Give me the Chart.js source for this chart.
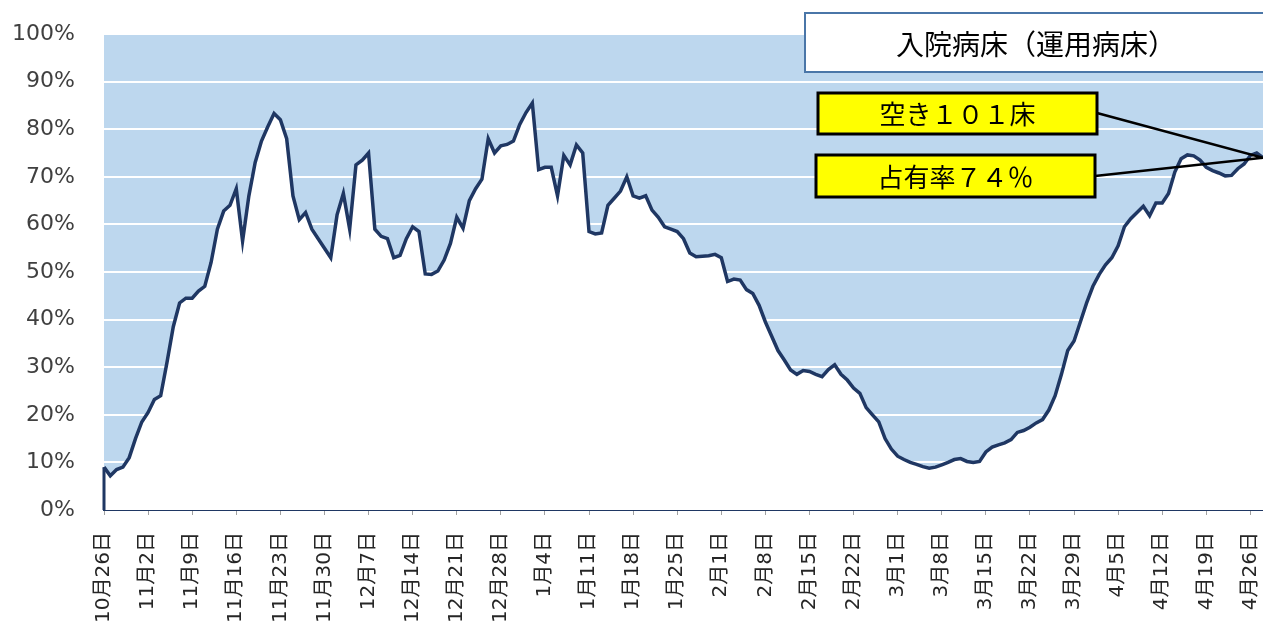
<!DOCTYPE html>
<html lang="ja">
<head>
<meta charset="utf-8">
<script src="https://cdn.jsdelivr.net/npm/chart.js@4.4.1/dist/chart.umd.min.js"></script>
<style>
  html, body { margin: 0; padding: 0; background: #fff; }
  #wrap { width: 1263px; height: 630px; position: relative; }
</style>
</head>
<body>
<div id="wrap"><canvas id="bed" width="1263" height="630"></canvas></div>
<script>
// daily occupancy (%) from 10/26 to 4/28
const occupancy = [
  9, 7.2, 8.5, 9, 11, 15, 18.5, 20.5, 23.2, 24,
  31, 38.5, 43.5, 44.5, 44.5, 46, 47, 52, 59, 62.8,
  64, 67.5, 56.5, 66, 73, 77.5, 80.5, 83.3, 82, 78,
  66, 61, 62.5, 59, 57, 55, 53, 62, 66.5, 59,
  72.5, 73.5, 75, 59, 57.5, 57, 53, 53.5, 57, 59.5,
  58.5, 49.6, 49.5, 50.2, 52.5, 56, 61.5, 59.2, 65, 67.5,
  69.5, 78, 75, 76.5, 76.8, 77.5, 81, 83.5, 85.5, 71.5,
  72, 72, 66, 74.5, 72.5, 76.7, 75, 58.5, 58, 58.2,
  64, 65.5, 67, 70, 66, 65.5, 66, 63, 61.5, 59.5,
  59, 58.5, 57, 54, 53.2, 53.3, 53.4, 53.7, 53, 48,
  48.5, 48.3, 46.3, 45.5, 43, 39.5, 36.5, 33.5, 31.5, 29.4,
  28.5, 29.3, 29.1, 28.5, 28, 29.5, 30.5, 28.5, 27.3, 25.6,
  24.5, 21.5, 20, 18.5, 15, 12.8, 11.3, 10.6, 10, 9.6,
  9.1, 8.8, 9, 9.5, 10, 10.6, 10.8, 10.2, 10, 10.2,
  12.2, 13.2, 13.7, 14.1, 14.8, 16.3, 16.7, 17.4, 18.3, 19,
  21, 24, 28.5, 33.5, 35.5, 39.5, 43.5, 47, 49.5, 51.5,
  53, 55.5, 59.5, 61.2, 62.5, 63.8, 61.8, 64.5, 64.5, 66.5,
  71, 73.8, 74.6, 74.4, 73.5, 72, 71.3, 70.8, 70.2, 70.3,
  71.7, 72.7, 74.5, 75, 74
];

const weekLabels = [
  '10月26日', '11月2日', '11月9日', '11月16日', '11月23日', '11月30日',
  '12月7日', '12月14日', '12月21日', '12月28日', '1月4日', '1月11日',
  '1月18日', '1月25日', '2月1日', '2月8日', '2月15日', '2月22日',
  '3月1日', '3月8日', '3月15日', '3月22日', '3月29日', '4月5日',
  '4月12日', '4月19日', '4月26日'
];

const yTicks = [0, 10, 20, 30, 40, 50, 60, 70, 80, 90, 100];

const titleText = '入院病床（運用病床）';
const emptyText = '空き１０１床';
const rateText = '占有率７４％';

// one category per day, weekly ones get a visible label
const days = occupancy.map((v, i) => {
  const w = i % 7 === 0 ? weekLabels[i / 7] : null;
  return w || '';
});

const navy = '#1f3763';
const skyBlue = '#bdd7ee';

// blue plot background, left edge of the area and the callouts
const areaDeco = {
  id: 'areaDeco',
  beforeDraw(chart) {
    const { ctx, chartArea: a } = chart;
    ctx.save();
    ctx.fillStyle = skyBlue;
    ctx.fillRect(a.left, a.top, a.right - a.left, a.bottom - a.top);
    ctx.restore();
  },
  afterDatasetsDraw(chart) {
    const { ctx, scales } = chart;
    const x0 = scales.x.getPixelForValue(0);
    ctx.save();
    ctx.strokeStyle = navy;
    ctx.lineWidth = 3;
    ctx.beginPath();
    ctx.moveTo(x0, scales.y.getPixelForValue(0));
    ctx.lineTo(x0, scales.y.getPixelForValue(occupancy[0]));
    ctx.stroke();
    ctx.restore();
  },
  afterDraw(chart) {
    const { ctx, scales } = chart;
    const last = occupancy.length - 1;
    const px = scales.x.getPixelForValue(last);
    const py = scales.y.getPixelForValue(occupancy[last]);

    ctx.save();
    // title box
    ctx.fillStyle = '#fff';
    ctx.fillRect(805, 13, 470, 59);
    ctx.strokeStyle = '#4a76a8';
    ctx.lineWidth = 2;
    ctx.strokeRect(805, 13, 470, 59);
    ctx.fillStyle = '#000';
    ctx.font = '28px "Noto Sans CJK JP"';
    ctx.textAlign = 'center';
    ctx.textBaseline = 'middle';
    ctx.fillText(titleText, 1036, 44);

    // connector lines
    ctx.strokeStyle = '#000';
    ctx.lineWidth = 2.5;
    ctx.beginPath();
    ctx.moveTo(1097, 113);
    ctx.lineTo(px, py);
    ctx.moveTo(1095, 176);
    ctx.lineTo(px, py);
    ctx.stroke();

    // yellow boxes
    const boxes = [
      { x: 818, y: 93, w: 279, h: 41, t: emptyText },
      { x: 816, y: 155, w: 279, h: 42, t: rateText }
    ];
    ctx.font = '26px "Noto Sans CJK JP"';
    boxes.forEach(b => {
      ctx.fillStyle = '#ffff00';
      ctx.fillRect(b.x, b.y, b.w, b.h);
      ctx.lineWidth = 3;
      ctx.strokeStyle = '#000';
      ctx.strokeRect(b.x, b.y, b.w, b.h);
      ctx.fillStyle = '#000';
      ctx.fillText(b.t, b.x + b.w / 2, b.y + b.h / 2 + 1);
    });
    ctx.restore();
  }
};

const config = {
  type: 'line',
  data: {
    labels: days,
    datasets: [{
      data: occupancy,
      borderColor: navy,
      borderWidth: 3.5,
      backgroundColor: '#ffffff',
      fill: 'origin',
      pointRadius: 0,
      tension: 0
    }]
  },
  options: {
    responsive: false,
    animation: false,
    layout: { padding: { top: 34, right: 0, left: 0, bottom: 0 } },
    plugins: { legend: { display: false }, tooltip: { enabled: false } },
    scales: {
      x: {
        offset: false,
        border: { display: true, color: navy, width: 2 },
        grid: { display: true, drawOnChartArea: false, drawTicks: true, tickLength: 5, color: '#a0a0a0' },
        ticks: {
          autoSkip: false,
          minRotation: 90,
          maxRotation: 90,
          padding: 17,
          color: '#262626',
          font: { family: '"DejaVu Sans", "Noto Sans CJK JP"', size: 20 },
          callback(val, i) {
            return i % 7 === 0 ? this.getLabelForValue(val) : null;
          }
        },
        afterFit(scale) {
          scale.height = 120;
          scale.paddingLeft = 0;
          scale.paddingRight = 0;
        }
      },
      y: {
        min: yTicks[0],
        max: yTicks[yTicks.length - 1],
        border: { display: false },
        grid: { color: '#ffffff', lineWidth: 2, drawTicks: false },
        afterBuildTicks(scale) {
          scale.ticks = yTicks.map(v => ({ value: v }));
        },
        ticks: {
          padding: 29,
          color: '#404040',
          font: { family: '"DejaVu Sans"', size: 22 },
          callback: v => v + '%'
        },
        afterFit(scale) {
          scale.width = 104;
          scale.paddingTop = 0;
          scale.paddingBottom = 0;
        }
      }
    }
  },
  plugins: [areaDeco]
};

var bedChart = new Chart(document.getElementById('bed'), config);
</script>
</body>
</html>
